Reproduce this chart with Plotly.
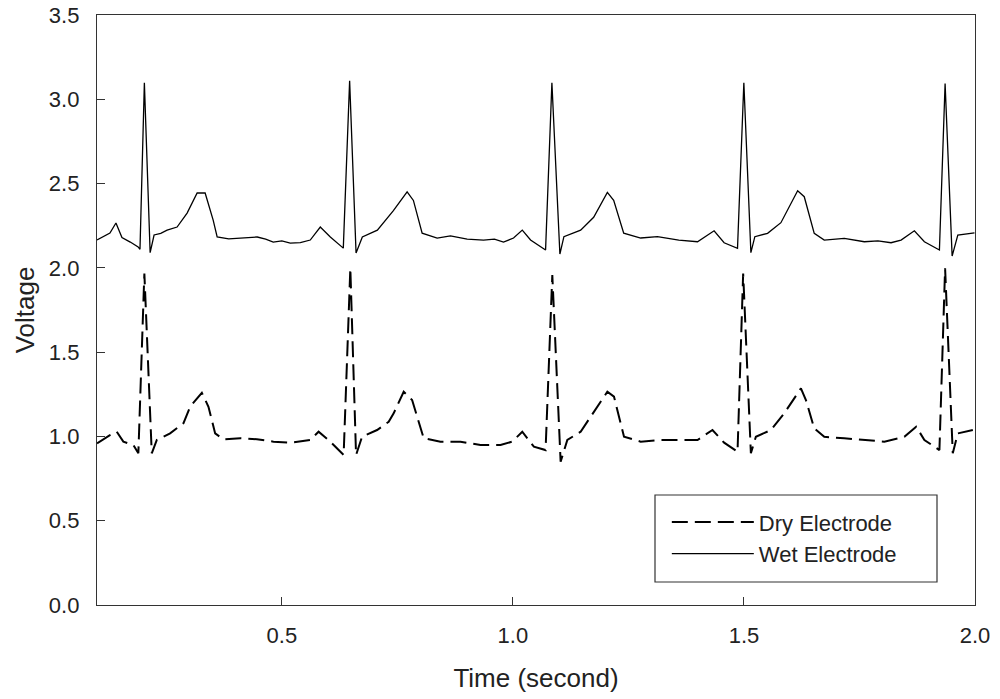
import plotly.graph_objects as go

# Wet electrode (solid) trace
wet_t = [0.100, 0.115, 0.128, 0.141, 0.154, 0.172, 0.189, 0.193, 0.2025, 0.215, 0.2235,
         0.238, 0.2517, 0.2733, 0.295, 0.3167, 0.334, 0.3514, 0.360, 0.385, 0.410, 0.4467,
         0.465, 0.4814, 0.5, 0.5182, 0.54, 0.5615, 0.5832, 0.6049, 0.633, 0.6467, 0.6606,
         0.6742, 0.7067, 0.7305, 0.7414, 0.7711, 0.7847, 0.8036, 0.8361, 0.8649, 0.9011,
         0.9364, 0.96, 0.9797, 1.0014, 1.0203, 1.0382, 1.0707, 1.0844, 1.1017, 1.1104,
         1.1466, 1.1748, 1.2044, 1.2181, 1.2398, 1.2766, 1.3128, 1.359, 1.3995, 1.4354,
         1.4571, 1.4861, 1.4998, 1.515, 1.5236, 1.5511, 1.58, 1.6162, 1.6305, 1.6521,
         1.6738, 1.7171, 1.7605, 1.79, 1.8183, 1.84, 1.8688, 1.8905, 1.923, 1.9353,
         1.9505, 1.9628, 1.9989]
wet_v = [2.165, 2.185, 2.206, 2.266, 2.180, 2.153, 2.124, 2.110, 3.098, 2.090, 2.195,
         2.205, 2.224, 2.242, 2.325, 2.444, 2.444, 2.283, 2.183, 2.172, 2.177, 2.183,
         2.170, 2.153, 2.160, 2.147, 2.150, 2.165, 2.242, 2.183, 2.117, 3.110, 2.088,
         2.183, 2.224, 2.300, 2.340, 2.451, 2.400, 2.206, 2.177, 2.190, 2.171,
         2.165, 2.170, 2.153, 2.177, 2.224, 2.165, 2.106, 3.098, 2.082, 2.185,
         2.224, 2.300, 2.448, 2.400, 2.206, 2.177, 2.185, 2.165, 2.155, 2.220,
         2.149, 2.116, 3.098, 2.090, 2.185, 2.205, 2.268, 2.457, 2.422, 2.205,
         2.165, 2.175, 2.155, 2.160, 2.149, 2.165, 2.220, 2.155, 2.106, 3.094,
         2.070, 2.195, 2.208]

# Dry electrode (dashed) trace
dry_t = [0.100, 0.128, 0.1427, 0.157, 0.1787, 0.1895, 0.2025, 0.2185, 0.2294, 0.2582,
         0.287, 0.3015, 0.3269, 0.3412, 0.3557, 0.3737, 0.4099, 0.446, 0.482, 0.5182,
         0.5615, 0.5795, 0.6049, 0.6337, 0.6482, 0.6606, 0.6736, 0.7061, 0.7312, 0.742,
         0.7637, 0.7819, 0.807, 0.8432, 0.8866, 0.9299, 0.9732, 0.9986, 1.0203, 1.0454,
         1.0707, 1.0853, 1.1033, 1.1178, 1.1466, 1.1755, 1.2044, 1.2188, 1.2405, 1.2766,
         1.32, 1.3596, 1.3995, 1.4319, 1.4571, 1.4861, 1.4983, 1.515, 1.5258, 1.5583,
         1.5871, 1.6233, 1.6341, 1.6521, 1.6738, 1.7171, 1.7605, 1.8038, 1.8471, 1.8727,
         1.8905, 1.923, 1.9353, 1.9519, 1.9628, 1.9953]
dry_v = [0.959, 1.008, 1.028, 0.969, 0.949, 0.900, 1.967, 0.900, 0.979, 1.018,
         1.078, 1.176, 1.259, 1.176, 1.018, 0.983, 0.989, 0.983, 0.969, 0.963,
         0.979, 1.028, 0.969, 0.890, 1.997, 0.890, 0.998, 1.038, 1.087, 1.137,
         1.265, 1.216, 0.989, 0.969, 0.969, 0.949, 0.949, 0.969, 1.028, 0.939,
         0.919, 1.957, 0.850, 0.979, 1.028, 1.147, 1.265, 1.236, 0.998, 0.969,
         0.979, 0.979, 0.979, 1.038, 0.963, 0.909, 1.967, 0.900, 0.998, 1.038,
         1.137, 1.285, 1.216, 1.048, 0.998, 0.989, 0.979, 0.969, 0.998, 1.058,
         0.979, 0.919, 1.997, 0.900, 1.018, 1.038]

x_ticks = [0.5, 1.0, 1.5, 2.0]
y_ticks = [0.0, 0.5, 1.0, 1.5, 2.0, 2.5, 3.0, 3.5]

FONT = "Liberation Sans, Arial, sans-serif"

fig = go.Figure()
fig.add_trace(go.Scatter(x=dry_t, y=dry_v, mode="lines", name="Dry Electrode",
                         line=dict(color="black", width=2, dash="16px,7px")))
fig.add_trace(go.Scatter(x=wet_t, y=wet_v, mode="lines", name="Wet Electrode",
                         line=dict(color="black", width=1.3)))

fig.update_layout(
    width=1000, height=699,
    margin=dict(l=97, r=25, t=15, b=94),
    plot_bgcolor="white", paper_bgcolor="white",
    font=dict(family=FONT, color="#222", size=22),
    showlegend=True,
    legend=dict(x=0.649, y=0.176, xanchor="left", yanchor="top",
                bgcolor="rgba(0,0,0,0)", borderwidth=0,
                font=dict(size=22, family=FONT), itemwidth=82,
                tracegroupgap=0),
    shapes=[dict(type="rect", xref="paper", yref="paper",
                 x0=(655 - 97) / 878, x1=(937 - 97) / 878,
                 y0=(605 - 582) / 590, y1=(605 - 495) / 590,
                 line=dict(color="#333", width=1.2))],
)
fig.update_xaxes(range=[0.1, 2.0], tickvals=x_ticks, ticktext=[f"{v:.1f}" for v in x_ticks],
                 ticks="inside", ticklen=8, tickcolor="#333", showgrid=False, zeroline=False,
                 showline=True, linecolor="#333", linewidth=1.3, mirror=True,
                 ticklabelstandoff=10, automargin=False, ticklabeloverflow="allow",
                 tickfont=dict(size=22),
                 title=dict(text="Time (second)", font=dict(size=26, family=FONT), standoff=22))
fig.update_yaxes(range=[0.0, 3.5], tickvals=y_ticks, ticktext=[f"{v:.1f}" for v in y_ticks],
                 ticks="inside", ticklen=8, tickcolor="#333", showgrid=False, zeroline=False,
                 showline=True, linecolor="#333", linewidth=1.3, mirror=True,
                 ticklabelstandoff=12, automargin=False, ticklabeloverflow="allow",
                 tickfont=dict(size=22),
                 title=dict(text="Voltage", font=dict(size=26, family=FONT), standoff=6))

fig.write_html("out.html", config={"displayModeBar": False},
               post_script="document.body.style.margin='0';")
